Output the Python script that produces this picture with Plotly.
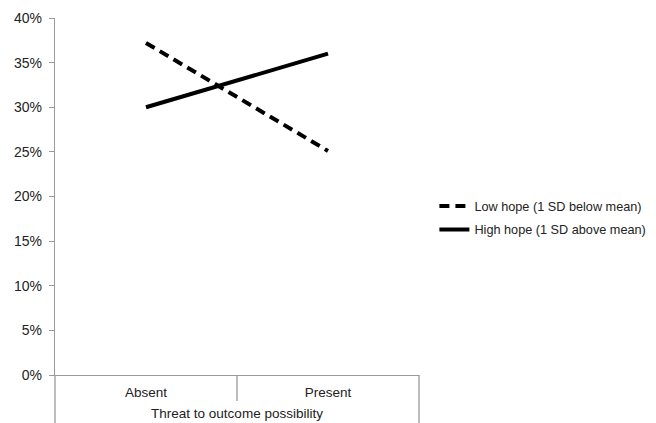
import plotly.graph_objects as go

categories = ["Absent", "Present"]
low_hope = [0.372, 0.251]
high_hope = [0.300, 0.360]
series_names = ["Low hope (1 SD below mean)", "High hope (1 SD above mean)"]
y_ticks = [0, 0.05, 0.10, 0.15, 0.20, 0.25, 0.30, 0.35, 0.40]
x_title = "Threat to outcome possibility"

FONT = "Liberation Sans, Arial, sans-serif"
TXT = "#222222"
AX = "#9a9a9a"

fig = go.Figure()
fig.add_trace(go.Scatter(x=categories, y=low_hope, mode="lines", name=series_names[0],
                         legendgroup="a",
                         line=dict(color="black", width=4, dash="10px,6px")))
fig.add_trace(go.Scatter(x=categories, y=high_hope, mode="lines", name=series_names[1],
                         legendgroup="b",
                         line=dict(color="black", width=4)))

# category separators (Excel-like multi-level axis)
fig.add_shape(type="line", xref="paper", yref="paper", x0=0, x1=0, y0=0, y1=-0.2,
              line=dict(color=AX, width=1.3))
fig.add_shape(type="line", xref="paper", yref="paper", x0=1, x1=1, y0=0, y1=-0.2,
              line=dict(color=AX, width=1.3))
fig.add_shape(type="line", xref="paper", yref="paper", x0=0.5, x1=0.5, y0=0, y1=-0.073,
              line=dict(color=AX, width=1.3))

fig.update_layout(
    width=656, height=423,
    margin=dict(l=47, r=245, t=10, b=56),
    paper_bgcolor="white", plot_bgcolor="white",
    font=dict(family=FONT, size=13, color=TXT),
    showlegend=True,
    legend=dict(xref="container", yref="container", x=0.650, y=0.567,
                xanchor="left", yanchor="top",
                traceorder="grouped", tracegroupgap=4,
                font=dict(family=FONT, size=12.7, color=TXT),
                bgcolor="rgba(0,0,0,0)", itemwidth=30),
    xaxis=dict(type="category", range=[-0.5, 1.5], showline=True, linecolor=AX, linewidth=1.3,
               ticks="", showgrid=False, zeroline=False, automargin=False,
               ticklabelstandoff=5, tickfont=dict(family=FONT, size=13.5, color=TXT),
               title=dict(text=x_title, standoff=9, font=dict(family=FONT, size=13.5, color=TXT))),
    yaxis=dict(range=[0, 0.4], tickvals=y_ticks, tickformat=".0%", showline=True,
               linecolor=AX, linewidth=1.3, ticks="outside", ticklen=5, tickcolor=AX,
               tickwidth=1.3, showgrid=False, zeroline=False, automargin=False,
               ticklabelstandoff=4, tickfont=dict(family=FONT, size=14, color=TXT)),
)

fig.write_html("out.html")
